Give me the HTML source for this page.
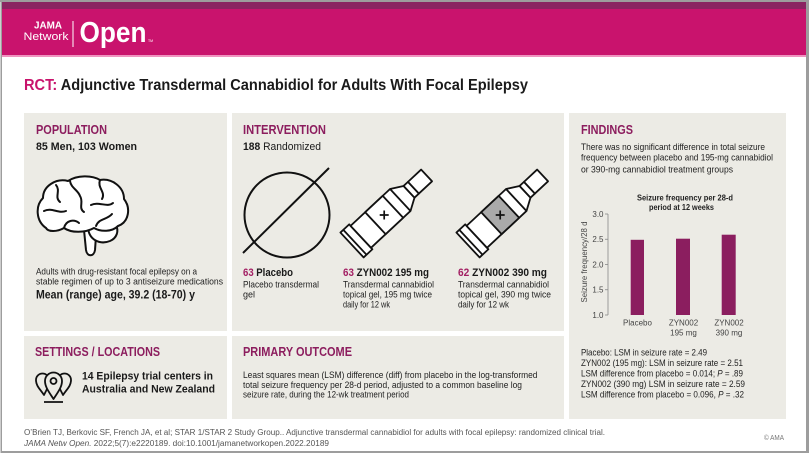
<!DOCTYPE html>
<html><head><meta charset="utf-8">
<style>
html,body{margin:0;padding:0;background:#fff;}
svg{display:block;}
text{font-family:"Liberation Sans",Arial,sans-serif;}
</style></head>
<body>
<svg width="810" height="457" viewBox="0 0 810 457" xmlns="http://www.w3.org/2000/svg">
<rect width="810" height="457" fill="#fff"/>
<!-- frame -->
<rect x="0" y="0" width="809" height="2" fill="#9d9d9d"/>
<rect x="0.5" y="0" width="1.5" height="453" fill="#9d9d9d"/>
<rect x="806" y="0" width="3" height="453" fill="#9d9d9d"/>
<rect x="0.5" y="451" width="808.5" height="2" fill="#9d9d9d"/>
<!-- header -->
<rect x="2" y="2" width="804" height="7" fill="#8a2461"/>
<rect x="2" y="9" width="804" height="46" fill="#c9136d"/>
<rect x="2" y="55" width="804" height="2" fill="#ef93bf"/>
<text x="62" y="28.5" font-size="9.8" font-weight="bold" fill="#fff" text-anchor="end" textLength="28" lengthAdjust="spacingAndGlyphs">JAMA</text>
<text x="23.5" y="40" font-size="11" fill="#fff" textLength="45" lengthAdjust="spacingAndGlyphs">Network</text>
<line x1="73" y1="21" x2="73" y2="47" stroke="#fff" stroke-width="1"/>
<text x="79.5" y="42" font-size="29" font-weight="bold" fill="#fff" textLength="67" lengthAdjust="spacingAndGlyphs">Open</text>
<text x="148" y="42" font-size="3.5" fill="#fff">TM</text>

<!-- title -->
<text x="24" y="90" font-size="15.5" font-weight="bold" textLength="504" lengthAdjust="spacingAndGlyphs"><tspan fill="#c8136c">RCT:</tspan><tspan fill="#1a1a1a"> Adjunctive Transdermal Cannabidiol for Adults With Focal Epilepsy</tspan></text>

<!-- panels -->
<rect x="24" y="113" width="203" height="218" fill="#ecebe5"/>
<rect x="232" y="113" width="332" height="218" fill="#ecebe5"/>
<rect x="569" y="113" width="217" height="306" fill="#ecebe5"/>
<rect x="24" y="336" width="203" height="83" fill="#ecebe5"/>
<rect x="232" y="336" width="332" height="83" fill="#ecebe5"/>

<!-- headings -->
<g font-size="12.5" font-weight="bold" fill="#8c1d5e">
<text x="36" y="134" textLength="71" lengthAdjust="spacingAndGlyphs">POPULATION</text>
<text x="243" y="134" textLength="83" lengthAdjust="spacingAndGlyphs">INTERVENTION</text>
<text x="581" y="134" textLength="52" lengthAdjust="spacingAndGlyphs">FINDINGS</text>
<text x="35" y="356" textLength="125" lengthAdjust="spacingAndGlyphs">SETTINGS / LOCATIONS</text>
<text x="243" y="356" textLength="109" lengthAdjust="spacingAndGlyphs">PRIMARY OUTCOME</text>
</g>

<!-- population -->
<text x="36" y="150" font-size="11" font-weight="bold" fill="#1a1a1a" textLength="101" lengthAdjust="spacingAndGlyphs">85 Men, 103 Women</text>
<g stroke="#111" stroke-width="2" fill="#fff" stroke-linecap="round" stroke-linejoin="round">
<path d="M84 230 L86 250 C87 257, 94 257, 95 250 L96 236"/>
<path d="M88 226 C88 240, 100 245, 110 241 C117 238, 119 231, 116 225"/>
<path d="M46 228 C36 221, 35 206, 43 198 C43 186, 56 178, 68 181 C77 175, 92 175, 100 180 C112 178, 124 187, 124 199 C131 208, 129 222, 118 226 C112 232, 101 232, 94 228 C85 233, 71 233, 64 228 C57 232, 48 232, 46 228 Z"/>
<g fill="none">
<path d="M56 185 C61 191, 54 197, 60 202"/>
<path d="M70 181 C71 188, 78 190, 80 196 C84 202, 78 208, 84 212"/>
<path d="M100 180 C97 188, 106 192, 102 199"/>
<path d="M44 211 C52 207, 58 214, 66 211"/>
<path d="M64 228 C66 220, 74 219, 79 223"/>
<path d="M91 205 C99 201, 107 208, 113 203"/>
<path d="M112 214 C107 220, 99 218, 96 226"/>
</g>
</g>
<g font-size="9" fill="#222">
<text x="36" y="274.7" textLength="161" lengthAdjust="spacingAndGlyphs">Adults with drug-resistant focal epilepsy on a</text>
<text x="36" y="284.3" textLength="187" lengthAdjust="spacingAndGlyphs">stable regimen of up to 3 antiseizure medications</text>
</g>
<text x="36" y="298.3" font-size="11.5" font-weight="bold" fill="#1a1a1a" textLength="159" lengthAdjust="spacingAndGlyphs">Mean (range) age, 39.2 (18-70) y</text>

<!-- intervention -->
<text x="243" y="150" font-size="11" fill="#1a1a1a" textLength="78" lengthAdjust="spacingAndGlyphs"><tspan font-weight="bold">188</tspan> Randomized</text>
<g stroke="#111" stroke-width="2" fill="none">
<circle cx="287" cy="215" r="42.5"/>
<line x1="243" y1="253" x2="329" y2="168"/>
</g>
<g transform="translate(352,245) rotate(-43)" stroke="#111" stroke-width="1.8" fill="#fff" stroke-linejoin="round">
<rect x="0" y="-17" width="12" height="34"/>
<line x1="4" y1="-17" x2="4" y2="17"/>
<path d="M12 -15 H66 L78 -8 V8 L66 15 H12 Z"/>
<line x1="66" y1="-15" x2="66" y2="15"/>
<rect x="32" y="-15" width="24" height="30" fill="#fff"/>
<rect x="78" y="-8" width="6" height="16"/>
<rect x="84" y="-8" width="18" height="16"/>
</g>
<path d="M384.2 210.5 V219.5 M379.7 215 H388.7" stroke="#111" stroke-width="1.7"/>
<g transform="translate(468,245) rotate(-43)" stroke="#111" stroke-width="1.8" fill="#fff" stroke-linejoin="round">
<rect x="0" y="-17" width="12" height="34"/>
<line x1="4" y1="-17" x2="4" y2="17"/>
<path d="M12 -15 H66 L78 -8 V8 L66 15 H12 Z"/>
<line x1="66" y1="-15" x2="66" y2="15"/>
<rect x="32" y="-15" width="24" height="30" fill="#aaaaaa"/>
<rect x="78" y="-8" width="6" height="16"/>
<rect x="84" y="-8" width="18" height="16"/>
</g>
<path d="M500.2 210.5 V219.5 M495.7 215 H504.7" stroke="#111" stroke-width="1.7"/>

<g font-size="11" font-weight="bold" fill="#1a1a1a">
<text x="243" y="276" textLength="50" lengthAdjust="spacingAndGlyphs"><tspan fill="#a21e62">63</tspan> Placebo</text>
<text x="343" y="276" textLength="86" lengthAdjust="spacingAndGlyphs"><tspan fill="#a21e62">63</tspan> ZYN002 195 mg</text>
<text x="458" y="276" textLength="89" lengthAdjust="spacingAndGlyphs"><tspan fill="#a21e62">62</tspan> ZYN002 390 mg</text>
</g>
<g font-size="9" fill="#222">
<text x="243" y="287.5" textLength="76" lengthAdjust="spacingAndGlyphs">Placebo transdermal</text>
<text x="243" y="297.5">gel</text>
<text x="343" y="287.5" textLength="91" lengthAdjust="spacingAndGlyphs">Transdermal cannabidiol</text>
<text x="343" y="297.5" textLength="89" lengthAdjust="spacingAndGlyphs">topical gel, 195 mg twice</text>
<text x="343" y="307.5" textLength="47" lengthAdjust="spacingAndGlyphs">daily for 12 wk</text>
<text x="458" y="287.5" textLength="91" lengthAdjust="spacingAndGlyphs">Transdermal cannabidiol</text>
<text x="458" y="297.5" textLength="93" lengthAdjust="spacingAndGlyphs">topical gel, 390 mg twice</text>
<text x="458" y="307.5" textLength="51" lengthAdjust="spacingAndGlyphs">daily for 12 wk</text>
</g>

<!-- findings -->
<g font-size="9.2" fill="#222">
<text x="581" y="150" textLength="184" lengthAdjust="spacingAndGlyphs">There was no significant difference in total seizure</text>
<text x="581" y="160.7" textLength="192" lengthAdjust="spacingAndGlyphs">frequency between placebo and 195-mg cannabidiol</text>
<text x="581" y="172.3" textLength="152" lengthAdjust="spacingAndGlyphs">or 390-mg cannabidiol treatment groups</text>
</g>
<g font-size="8.3" font-weight="bold" fill="#222" text-anchor="middle">
<text x="685" y="200.5" textLength="96" lengthAdjust="spacingAndGlyphs">Seizure frequency per 28-d</text>
<text x="681.5" y="210" textLength="65" lengthAdjust="spacingAndGlyphs">period at 12 weeks</text>
</g>
<line x1="608" y1="214" x2="608" y2="315" stroke="#888" stroke-width="0.8"/>
<g stroke="#888" stroke-width="0.8">
<line x1="605" y1="214" x2="608" y2="214"/>
<line x1="605" y1="239.25" x2="608" y2="239.25"/>
<line x1="605" y1="264.5" x2="608" y2="264.5"/>
<line x1="605" y1="289.75" x2="608" y2="289.75"/>
<line x1="605" y1="315" x2="608" y2="315"/>
</g>
<g font-size="8" fill="#444" text-anchor="end">
<text x="603.5" y="217">3.0</text>
<text x="603.5" y="242.2">2.5</text>
<text x="603.5" y="267.5">2.0</text>
<text x="603.5" y="292.7">1.5</text>
<text x="603.5" y="318">1.0</text>
</g>
<text x="587" y="262" font-size="8" fill="#444" text-anchor="middle" transform="rotate(-90 587 262)" textLength="81" lengthAdjust="spacingAndGlyphs">Seizure frequency/28 d</text>
<g fill="#8b1e5f">
<rect x="630.7" y="239.8" width="13.3" height="75.2"/>
<rect x="676" y="238.7" width="14" height="76.3"/>
<rect x="721.7" y="234.7" width="14" height="80.3"/>
</g>
<g font-size="8" fill="#444" text-anchor="middle">
<text x="637.5" y="325.5">Placebo</text>
<text x="683.5" y="325.5">ZYN002</text>
<text x="683.5" y="335.5">195 mg</text>
<text x="729" y="325.5">ZYN002</text>
<text x="729" y="335.5">390 mg</text>
</g>
<g font-size="9.2" fill="#222">
<text x="581" y="355.7" textLength="126" lengthAdjust="spacingAndGlyphs">Placebo: LSM in seizure rate = 2.49</text>
<text x="581" y="366" textLength="162" lengthAdjust="spacingAndGlyphs">ZYN002 (195 mg): LSM in seizure rate = 2.51</text>
<text x="581" y="376.7" textLength="162" lengthAdjust="spacingAndGlyphs">LSM difference from placebo = 0.014; <tspan font-style="italic">P</tspan> = .89</text>
<text x="581" y="387" textLength="164" lengthAdjust="spacingAndGlyphs">ZYN002 (390 mg) LSM in seizure rate = 2.59</text>
<text x="581" y="397.7" textLength="163" lengthAdjust="spacingAndGlyphs">LSM difference from placebo = 0.096, <tspan font-style="italic">P</tspan> = .32</text>
</g>

<!-- settings -->
<g stroke="#111" stroke-width="1.8" fill="#ecebe5" stroke-linejoin="round">
<path d="M44 395 C40 389, 36 386, 36 380 A6.5 6.5 0 1 1 49 380 C49 386, 47 389, 44 395 Z"/>
<path d="M63 395 C60 389, 58 386, 58 380 A6.5 6.5 0 1 1 71 380 C71 386, 67 389, 63 395 Z"/>
<path d="M53.5 399 C49 392, 45 387, 45 381 A8.5 8.5 0 1 1 62 381 C62 387, 58 392, 53.5 399 Z"/>
<circle cx="53.5" cy="381" r="3" fill="none"/>
<line x1="44" y1="402" x2="63" y2="402"/>
</g>
<g font-size="11" font-weight="bold" fill="#1a1a1a">
<text x="82" y="379.5" textLength="131" lengthAdjust="spacingAndGlyphs">14 Epilepsy trial centers in</text>
<text x="82" y="392.7" textLength="133" lengthAdjust="spacingAndGlyphs">Australia and New Zealand</text>
</g>

<!-- primary outcome -->
<g font-size="8.8" fill="#222">
<text x="243" y="378" textLength="294.5" lengthAdjust="spacingAndGlyphs">Least squares mean (LSM) difference (diff) from placebo in the log-transformed</text>
<text x="243" y="388" textLength="279" lengthAdjust="spacingAndGlyphs">total seizure frequency per 28-d period, adjusted to a common baseline log</text>
<text x="243" y="397.5" textLength="166" lengthAdjust="spacingAndGlyphs">seizure rate, during the 12-wk treatment period</text>
</g>

<!-- footer -->
<g font-size="8" fill="#555">
<text x="24" y="435" textLength="581" lengthAdjust="spacingAndGlyphs">O’Brien TJ, Berkovic SF, French JA, et al; STAR 1/STAR 2 Study Group.. Adjunctive transdermal cannabidiol for adults with focal epilepsy: randomized clinical trial.</text>
<text x="24" y="446" textLength="305" lengthAdjust="spacingAndGlyphs"><tspan font-style="italic">JAMA Netw Open.</tspan> 2022;5(7):e2220189. doi:10.1001/jamanetworkopen.2022.20189</text>
</g>
<text x="764" y="440" font-size="7" fill="#777" textLength="20" lengthAdjust="spacingAndGlyphs">© AMA</text>
</svg>
</body></html>
